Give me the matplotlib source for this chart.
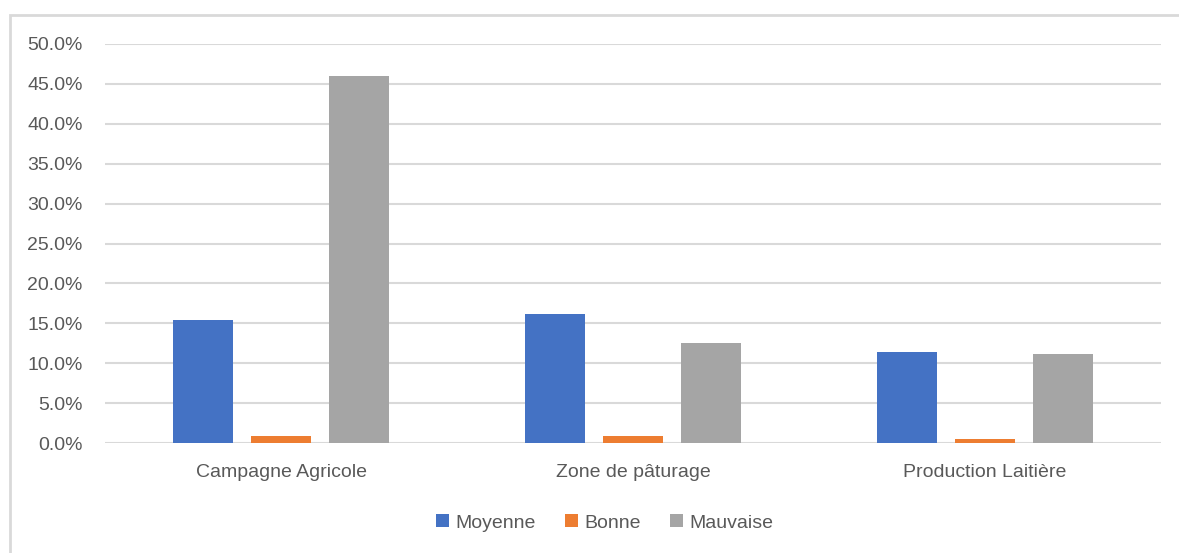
import matplotlib.pyplot as plt
import matplotlib.patches as mpatches
import numpy as np
from matplotlib.ticker import PercentFormatter

plt.rcParams['font.family'] = ['Liberation Sans Narrow', 'Liberation Sans', 'DejaVu Sans']

categories = ['Campagne Agricole', 'Zone de pâturage', 'Production Laitière']
series = ['Moyenne', 'Bonne', 'Mauvaise']
moyenne = [15.4, 16.2, 11.4]
bonne = [0.9, 0.9, 0.45]
mauvaise = [46.0, 12.5, 11.1]
colors = ['#4472c4', '#ed7d31', '#a5a5a5']
yticks = [0, 5, 10, 15, 20, 25, 30, 35, 40, 45, 50]

txt = '#595959'
fig = plt.figure(figsize=(11.79, 5.53), dpi=100)
ax = fig.add_axes([105 / 1179, 1 - 443 / 553, 1056 / 1179, 399 / 553])

# chart frame
fig.patches.append(mpatches.Rectangle((10 / 1179, -0.1), 1.2, 1 - 15 / 553 + 0.1,
                                      transform=fig.transFigure, fill=False,
                                      edgecolor='#d9d9d9', linewidth=2))

x = np.arange(len(categories))
w = 0.173
step = 0.2216
for i, (vals, name) in enumerate(zip([moyenne, bonne, mauvaise], series)):
    ax.bar(x + (i - 1) * step, vals, width=w, color=colors[i], label=name, zorder=3)

ax.set_xlim(-0.5, 2.5)
ax.set_ylim(0, 50)
ax.set_yticks(yticks)
ax.yaxis.set_major_formatter(PercentFormatter(decimals=1))
ax.set_xticks(x)
ax.set_xticklabels(categories)
ax.grid(axis='y', color='#d9d9d9', linewidth=1.5, zorder=0)
for s in ax.spines.values():
    s.set_visible(False)
ax.tick_params(length=0, labelsize=14, colors=txt)
ax.tick_params(axis='x', pad=15)
ax.tick_params(axis='y', pad=16)

ax.legend(loc='center', bbox_to_anchor=(605 / 1179, 1 - 523 / 553),
          bbox_transform=fig.transFigure, ncol=3, frameon=False,
          fontsize=14, labelcolor=txt, handlelength=0.65, handleheight=0.65,
          handletextpad=0.35, columnspacing=1.5)

fig.savefig('out.png', dpi=100)
